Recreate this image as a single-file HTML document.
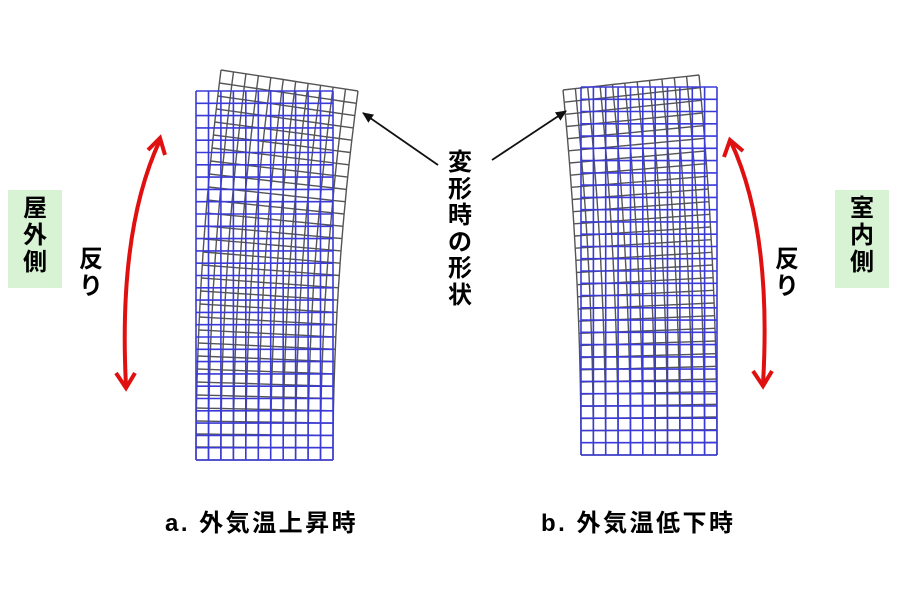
<!DOCTYPE html>
<html><head><meta charset="utf-8"><style>
html,body{margin:0;padding:0;background:#fff;}
body{width:900px;height:600px;position:relative;overflow:hidden;font-family:"Liberation Sans","Noto Sans CJK JP",sans-serif;}
.v{position:absolute;text-align:center;line-height:1.15;}
</style></head><body>
<svg id="s" width="900" height="600" style="position:absolute;left:0;top:0">
<defs>
<marker id="bh" markerWidth="12" markerHeight="12" refX="10" refY="6" orient="auto" markerUnits="userSpaceOnUse"><path d="M0,1 L11,6 L0,11 Z" fill="#111"/></marker>
</defs>
<g id="g"></g>
<path d="M126,386 Q118,230 160,140" fill="none" stroke="#e01010" stroke-width="4"/>
<path d="M148,150 L160,138 L165,155" fill="none" stroke="#e01010" stroke-width="4"/>
<path d="M116,373 L126,388 L135,373" fill="none" stroke="#e01010" stroke-width="4"/>
<path d="M763,384 Q772,230 731,142" fill="none" stroke="#e01010" stroke-width="4"/>
<path d="M724,157 L730,140 L743,151" fill="none" stroke="#e01010" stroke-width="4"/>
<path d="M753,371 L763,386 L772,371" fill="none" stroke="#e01010" stroke-width="4"/>
<line x1="438" y1="165" x2="363" y2="113" stroke="#111" stroke-width="1.8" marker-end="url(#bh)"/>
<line x1="492" y1="160" x2="566" y2="111" stroke="#111" stroke-width="1.8" marker-end="url(#bh)"/>
</svg>
<div style="position:absolute;left:8px;top:190px;width:54px;height:98px;background:#d8f3d4"></div>
<div class="v" style="left:8px;top:195px;width:54px;font-size:24px;line-height:27px;font-weight:bold;">屋<br>外<br>側</div>
<div class="v" style="left:74px;top:246px;width:34px;font-size:24px;line-height:27px;font-weight:bold;">反<br>り</div>
<div style="position:absolute;left:835px;top:190px;width:54px;height:98px;background:#d8f3d4"></div>
<div class="v" style="left:835px;top:195px;width:54px;font-size:24px;line-height:27px;font-weight:bold;">室<br>内<br>側</div>
<div class="v" style="left:770px;top:246px;width:34px;font-size:24px;line-height:27px;font-weight:bold;">反<br>り</div>
<div class="v" style="left:440px;top:150px;width:40px;font-size:24px;line-height:26.5px;font-weight:bold;">変<br>形<br>時<br>の<br>形<br>状</div>
<div style="position:absolute;left:165px;top:503px;font-size:24px;font-weight:bold;white-space:nowrap;letter-spacing:2.5px;">a.&nbsp;外気温上昇時</div>
<div style="position:absolute;left:541px;top:503px;font-size:24px;font-weight:bold;white-space:nowrap;letter-spacing:2.5px;">b.&nbsp;外気温低下時</div>
<script>
var g=document.getElementById('g'),ns='http://www.w3.org/2000/svg';
function pl(pts,c,w){var p=document.createElementNS(ns,'polyline');p.setAttribute('points',pts.map(function(a){return a[0].toFixed(1)+','+a[1].toFixed(1)}).join(' '));p.setAttribute('fill','none');p.setAttribute('stroke',c);p.setAttribute('stroke-width',w);g.appendChild(p);}
function grid(cols,rows,f,c,w){
 for(var i=0;i<=cols;i++){var u=i/cols,a=[];for(var j=0;j<=rows;j++){a.push(f(u,j/rows));}pl(a,c,w);}
 for(var j=0;j<=rows;j++){var v=j/rows,a=[];for(var i=0;i<=cols;i++){a.push(f(i/cols,v));}pl(a,c,w);}
}
var L=function(x0,x1,yb,yt){return function(u,v){return [x0+u*(x1-x0),yb-v*(yb-yt)];};};
grid(11,30,function(u,v){return [196+u*137+25*v*v,460-v*369-21*(1-u)*v];},'#555',1.4);
grid(11,30,L(196,333,460,91),'#3a3ad8',1.6);
grid(11,30,function(u,v){return [581+u*136-18*v*v,455-v*368+3*v-15*u*v];},'#555',1.4);
grid(11,30,L(581,717,455,87),'#3a3ad8',1.6);
</script>
</body></html>
